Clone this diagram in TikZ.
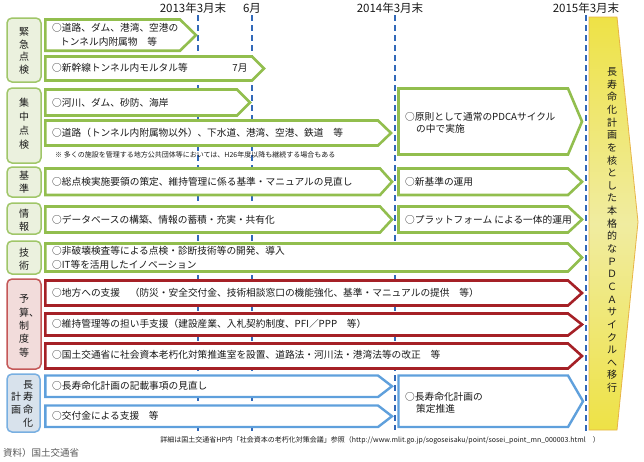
\documentclass[tikz,border=0pt]{standalone}
\usepackage{fontspec}
\setmainfont{Noto Sans CJK JP}
\definecolor{grn}{RGB}{146,190,78}
\definecolor{grnbd}{RGB}{160,198,105}
\definecolor{grnfill}{RGB}{235,241,222}
\definecolor{redA}{RGB}{165,32,38}
\definecolor{redbd}{RGB}{196,88,88}
\definecolor{redfill}{RGB}{242,220,219}
\definecolor{bluA}{RGB}{95,160,220}
\definecolor{blubd}{RGB}{120,175,225}
\definecolor{blufill}{RGB}{216,226,236}
\definecolor{dashc}{RGB}{50,105,185}
\definecolor{yel}{RGB}{238,226,70}
\definecolor{yelmid}{RGB}{240,236,160}
\definecolor{yelbd}{RGB}{232,180,70}
\definecolor{txt}{RGB}{25,25,25}
\tikzset{
  catbox/.style={rounded corners=5pt, line width=1.5pt},
  garr/.style={draw=grn, line width=2.6pt, fill=white},
  rarr/.style={draw=redA, line width=2.6pt, fill=white},
  barr/.style={draw=bluA, line width=2.4pt, fill=white},
  lbl/.style={anchor=west, inner sep=0pt, font=\fontsize{9.7}{14}\selectfont, text=txt, align=left},
  clbl/.style={inner sep=0pt, font=\fontsize{10}{12.7}\selectfont, text=txt, align=center},
  hdr/.style={inner sep=0pt, font=\fontsize{11.5}{13}\selectfont, text=txt},
  small/.style={inner sep=0pt, font=\fontsize{7}{9}\selectfont, text=txt},
  tline/.style={draw=dashc, line width=2pt, dash pattern=on 6pt off 4pt},
}
\newcommand\pent[6]{\draw[#6] (#1,#2) -- (#3,#2) -- (#5,{(#2+#4)/2}) -- (#3,#4) -- (#1,#4) -- cycle;}
\begin{document}
\begin{tikzpicture}[x=1pt,y=-1pt]
\useasboundingbox (0,0) rectangle (644,461);
% headers
\node[hdr] (h1) at (193,8) {2013年3月末};
\node[hdr] (h2) at (252,8) {6月};
\node[hdr] (h3) at (390,8) {2014年3月末};
\node[hdr] (h4) at (586,8) {2015年3月末};
% timeline dashed lines
\coordinate (t1a) at (198,15); \coordinate (t1b) at (198,432);
\coordinate (t2a) at (252,15); \coordinate (t2b) at (252,432);
\coordinate (t3a) at (395,15); \coordinate (t3b) at (395,430);
\coordinate (t4a) at (586,15); \coordinate (t4b) at (586,432);
\draw[tline] (t1a) -- (t1b);
\draw[tline] (t2a) -- (t2b);
\draw[tline] (t3a) -- (t3b);
\draw[tline] (t4a) -- (t4b);
% yellow final arrow
\path[top color=yel, bottom color=yel, middle color=yelmid, draw=yelbd, line width=0.8pt]
  (589,17) -- (617,17) -- (638,222) -- (617,430) -- (589,430) -- cycle;
\node[inner sep=0pt, font=\fontsize{10}{12.64}\selectfont, text=txt, align=center] (fin) at (612,230)
  {長\\寿\\命\\化\\計\\画\\を\\核\\と\\し\\た\\本\\格\\的\\な\\Ｐ\\Ｄ\\Ｃ\\Ａ\\サ\\イ\\ク\\ル\\へ\\移\\行};
% category boxes
\draw[catbox, draw=grnbd, fill=grnfill] (7,18) rectangle (41,82);
\draw[catbox, draw=grnbd, fill=grnfill] (7,88) rectangle (41,163);
\draw[catbox, draw=grnbd, fill=grnfill] (7,167) rectangle (41,197);
\draw[catbox, draw=grnbd, fill=grnfill] (7,203) rectangle (41,234);
\draw[catbox, draw=grnbd, fill=grnfill] (7,241) rectangle (41,274);
\draw[catbox, draw=redbd, fill=redfill] (7,279) rectangle (41,369);
\draw[catbox, draw=blubd, fill=blufill] (7,374) rectangle (40,432);
\node[clbl] (c1) at (24,51) {緊\\急\\点\\検};
\node[clbl, font=\fontsize{10}{14}\selectfont] (c2) at (24,124) {集\\中\\点\\検};
\node[clbl] (c3) at (24,182) {基\\準};
\node[clbl] (c4) at (24,220) {情\\報};
\node[clbl] (c5) at (24,259) {技\\術};
\node[clbl, font=\fontsize{10}{13.3}\selectfont] (c6) at (24,326) {予\\算\rlap{、}\\制\\度\\等};
\node[clbl] (c7a) at (28,385) {長};
\node[clbl] (c7b) at (28,397) {寿};
\node[clbl] (c7c) at (28,410) {命};
\node[clbl] (c7d) at (28,423) {化};
\node[clbl] (c7e) at (16,397) {計};
\node[clbl] (c7f) at (16,410) {画};
% green arrows
\pent{45.3}{19.5}{180}{50.7}{196}{garr}
\pent{45.3}{56.5}{252}{80.5}{264}{garr}
\pent{45.3}{89.5}{237}{115.5}{250}{garr}
\pent{45.3}{120.5}{378}{145.5}{391}{garr}
\pent{398.5}{88.5}{568}{154.5}{582}{garr}
\pent{45.3}{168.5}{380}{195}{392}{garr}
\pent{398.5}{168.5}{568}{195}{582}{garr}
\pent{45.3}{206.5}{380}{232.5}{392}{garr}
\pent{398.5}{206.5}{568}{232.5}{582}{garr}
\pent{45.3}{243.5}{568}{271.5}{582}{garr}
% red arrows
\pent{45.3}{280.5}{568}{305.5}{582}{rarr}
\pent{45.3}{313.5}{568}{335.5}{582}{rarr}
\pent{45.3}{343.5}{568}{368.5}{582}{rarr}
% blue arrows
\pent{45.3}{375.5}{378}{397}{392}{barr}
\pent{45.3}{405.5}{378}{427}{392}{barr}
\pent{398.5}{375.5}{568}{427}{583}{barr}
% texts
\node[lbl] (r1) at (52,35) {○道路、ダム、港湾、空港の\\\hspace*{8pt}トンネル内附属物　等};
\node[lbl] (r2) at (52,68) {○新幹線トンネル内モルタル等};
\node[lbl, anchor=center] (r2m) at (240,68) {7月};
\node[lbl] (r3) at (52,103) {○河川、ダム、砂防、海岸};
\node[lbl] (r4) at (52,133) {○道路（トンネル内附属物以外）、下水道、港湾、空港、鉄道　等};
\node[small, anchor=west] (note) at (55,155) {※ 多くの施設を管理する地方公共団体等においては、H26年度以降も継続する場合もある};
\node[lbl, font=\fontsize{9.7}{12}\selectfont] (r4b) at (405,123) {○原則として通常のPDCAサイクル\\\hspace*{11pt}の中で実施};
\node[lbl] (r5) at (52,182) {○総点検実施要領の策定、維持管理に係る基準・マニュアルの見直し};
\node[lbl] (r5b) at (405,182) {○新基準の運用};
\node[lbl] (r6) at (52,220) {○データベースの構築、情報の蓄積・充実・共有化};
\node[lbl] (r6b) at (405,220) {○プラットフォーム による一体的運用};
\node[lbl] (r7) at (52,258) {○非破壊検査等による点検・診断技術等の開発、導入\\○IT等を活用したイノベーション};
\node[lbl] (r8) at (52,293) {○地方への支援　（防災・安全交付金、技術相談窓口の機能強化、基準・マニュアルの提供　等）};
\node[lbl] (r9) at (52,324) {○維持管理等の担い手支援（建設産業、入札契約制度、PFI／PPP　等）};
\node[lbl] (r10) at (52,355) {○国土交通省に社会資本老朽化対策推進室を設置、道路法・河川法・港湾法等の改正　等};
\node[lbl] (r11) at (52,386) {○長寿命化計画の記載事項の見直し};
\node[lbl] (r12) at (52,416) {○交付金による支援　等};
\node[lbl, font=\fontsize{9.7}{12}\selectfont] (r11b) at (405,403) {○長寿命化計画の\\\hspace*{11pt}策定推進};
% footer
\node[small, anchor=east] (foot) at (600,440) {詳細は国土交通省HP内「社会資本の老朽化対策会議」参照（http://www.mlit.go.jp/sogoseisaku/point/sosei\_point\_mn\_000003.html　）};
\node[inner sep=0pt, anchor=west, font=\fontsize{9.5}{11}\selectfont, text=black!65] (src) at (3,453) {資料）国土交通省};
\end{tikzpicture}
\end{document}
